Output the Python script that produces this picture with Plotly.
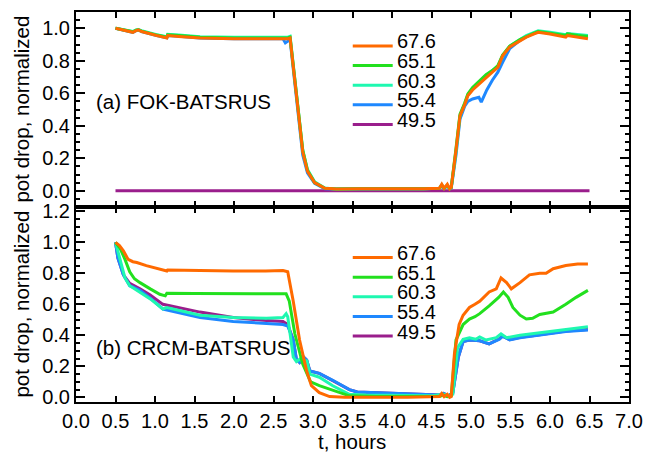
import plotly.graph_objects as go
from plotly.subplots import make_subplots

labels = ["67.6", "65.1", "60.3", "55.4", "49.5"]
colors = ["#FF6A00", "#22E01E", "#1EF8B0", "#1E88FF", "#9A1E8C"]

# ---------- (a) FOK-BATSRUS ----------
t_a_676 = [0.5, 0.6, 0.72, 0.76, 0.79, 0.83, 0.9, 1.02, 1.15, 1.16, 1.3, 1.57, 2.0, 2.4, 2.62, 2.68, 2.71,
           2.75, 2.81, 2.87, 2.93, 3.02, 3.15, 3.3, 3.6, 4.0, 4.4, 4.6, 4.63, 4.66, 4.70, 4.73, 4.75,
           4.81, 4.86, 4.92, 4.96, 5.02, 5.11, 5.19, 5.27, 5.34, 5.40, 5.49, 5.62, 5.70, 5.80, 5.85,
           6.0, 6.2, 6.22, 6.35, 6.48]
v_a_676 = [1.0, 0.99, 0.975, 0.985, 0.99, 0.98, 0.97, 0.955, 0.94, 0.955, 0.95, 0.94, 0.935, 0.935, 0.935, 0.935, 0.94,
           0.76, 0.49, 0.24, 0.12, 0.05, 0.015, 0.01, 0.012, 0.01, 0.012, 0.015, 0.04, 0.015, 0.04, 0.012, 0.02,
           0.25, 0.46, 0.53, 0.585, 0.62, 0.66, 0.70, 0.73, 0.76, 0.83, 0.885, 0.925, 0.945, 0.965, 0.975,
           0.965, 0.945, 0.955, 0.945, 0.935]

t_a_651 = [0.5, 0.6, 0.72, 0.76, 0.79, 0.83, 0.9, 1.02, 1.15, 1.16, 1.3, 1.57, 2.0, 2.4, 2.62, 2.68, 2.71,
           2.75, 2.81, 2.87, 2.93, 3.02, 3.15, 3.3, 3.6, 4.0, 4.4, 4.6, 4.63, 4.66, 4.70, 4.73, 4.75,
           4.81, 4.86, 4.92, 4.96, 5.02, 5.11, 5.19, 5.27, 5.34, 5.40, 5.49, 5.62, 5.70, 5.80, 5.85,
           6.0, 6.2, 6.22, 6.35, 6.48]
v_a_651 = [1.0, 0.99, 0.978, 0.988, 0.99, 0.982, 0.972, 0.958, 0.945, 0.96, 0.955, 0.945, 0.94, 0.94, 0.94, 0.94, 0.945,
           0.77, 0.50, 0.25, 0.125, 0.05, 0.015, 0.01, 0.012, 0.01, 0.012, 0.015, 0.035, 0.015, 0.035, 0.012, 0.02,
           0.26, 0.47, 0.54, 0.595, 0.635, 0.68, 0.715, 0.74, 0.77, 0.835, 0.89, 0.93, 0.95, 0.97, 0.98,
           0.97, 0.955, 0.965, 0.955, 0.95]

t_a_603 = [0.5, 0.6, 0.72, 0.76, 0.79, 0.83, 0.9, 1.02, 1.15, 1.16, 1.3, 1.57, 2.0, 2.4, 2.62, 2.68, 2.71,
           2.75, 2.81, 2.87, 2.93, 3.02, 3.15, 3.3, 3.6, 4.0, 4.4, 4.6, 4.63, 4.66, 4.70, 4.73, 4.75,
           4.81, 4.86, 4.92, 4.96, 5.02, 5.11, 5.19, 5.27, 5.34, 5.40, 5.49, 5.62, 5.70, 5.80, 5.85,
           6.0, 6.2, 6.22, 6.35, 6.48]
v_a_603 = [1.0, 0.99, 0.98, 0.99, 0.992, 0.985, 0.975, 0.96, 0.948, 0.962, 0.958, 0.948, 0.945, 0.945, 0.945, 0.945, 0.95,
           0.77, 0.50, 0.25, 0.13, 0.055, 0.017, 0.01, 0.012, 0.01, 0.012, 0.015, 0.035, 0.015, 0.03, 0.012, 0.02,
           0.24, 0.46, 0.535, 0.59, 0.63, 0.675, 0.71, 0.74, 0.765, 0.83, 0.89, 0.93, 0.955, 0.975, 0.985,
           0.975, 0.96, 0.968, 0.96, 0.955]

t_a_554 = [0.5, 0.6, 0.72, 0.76, 0.79, 0.83, 0.9, 1.02, 1.15, 1.16, 1.3, 1.57, 2.0, 2.4, 2.62, 2.65, 2.68, 2.71,
           2.75, 2.81, 2.87, 2.93, 3.02, 3.15, 3.3, 3.6, 4.0, 4.4, 4.6, 4.63, 4.66, 4.70, 4.73, 4.75,
           4.81, 4.86, 4.92, 4.96, 5.02, 5.10, 5.13, 5.2, 5.27, 5.34, 5.40, 5.49, 5.62, 5.70, 5.80, 5.85,
           6.0, 6.2, 6.22, 6.35, 6.48]
v_a_554 = [1.0, 0.99, 0.975, 0.985, 0.99, 0.98, 0.97, 0.955, 0.942, 0.956, 0.95, 0.94, 0.936, 0.936, 0.935, 0.91, 0.92, 0.93,
           0.75, 0.47, 0.22, 0.11, 0.045, 0.013, 0.01, 0.012, 0.01, 0.012, 0.015, 0.03, 0.015, 0.03, 0.012, 0.015,
           0.22, 0.44, 0.52, 0.55, 0.565, 0.575, 0.545, 0.62, 0.68, 0.73, 0.79, 0.875, 0.925, 0.95, 0.97, 0.98,
           0.97, 0.955, 0.965, 0.955, 0.95]

t_a_495 = [0.5, 6.5]
v_a_495 = [0.0, 0.0]

# ---------- (b) CRCM-BATSRUS ----------
t_b_676 = [0.5, 0.55, 0.60, 0.66, 0.72, 0.77, 0.89, 1.02, 1.15, 1.16, 1.5, 1.99, 2.4, 2.62, 2.68,
           2.75, 2.83, 2.92, 2.98, 3.08, 3.21, 3.4, 3.8, 4.2, 4.6, 4.63, 4.66, 4.70, 4.73, 4.75,
           4.79, 4.85, 4.90, 4.98, 5.05, 5.11, 5.23, 5.32, 5.38, 5.45, 5.51, 5.62, 5.74, 5.87, 5.95,
           6.04, 6.2, 6.35, 6.48]
v_b_676 = [1.0, 0.98, 0.945, 0.89, 0.875, 0.87, 0.85, 0.83, 0.815, 0.822, 0.818, 0.815, 0.815, 0.818, 0.81,
           0.62, 0.37, 0.17, 0.075, 0.03, 0.005, 0.0, 0.0, 0.0, 0.005, 0.025, 0.005, 0.02, 0.0, 0.005,
           0.28, 0.47, 0.53, 0.58, 0.60, 0.62, 0.68, 0.70, 0.77, 0.74, 0.70, 0.74, 0.79, 0.80, 0.80,
           0.83, 0.85, 0.86, 0.86]

t_b_651 = [0.5, 0.56, 0.62, 0.68, 0.74, 0.81, 0.94, 1.06, 1.13, 1.15, 1.5, 2.0, 2.4, 2.66,
           2.70, 2.77, 2.87, 2.94, 2.97, 3.08, 3.25, 3.46, 3.8, 4.2, 4.6, 4.65, 4.70, 4.75,
           4.81, 4.90, 4.98, 5.05, 5.11, 5.23, 5.35, 5.41, 5.47, 5.53, 5.62, 5.70, 5.78, 5.87,
           6.04, 6.2, 6.33, 6.48]
v_b_651 = [1.0, 0.96, 0.89, 0.81, 0.765, 0.74, 0.70, 0.665, 0.655, 0.672, 0.67, 0.668, 0.667, 0.668,
           0.62, 0.41, 0.215, 0.13, 0.10, 0.075, 0.045, 0.01, 0.005, 0.003, 0.005, 0.015, 0.005, 0.01,
           0.37, 0.47, 0.505, 0.52, 0.54, 0.59, 0.645, 0.68, 0.645, 0.58, 0.53, 0.505, 0.51, 0.535,
           0.55, 0.60, 0.645, 0.69]

t_b_603 = [0.5, 0.56, 0.62, 0.68, 0.81, 0.94, 1.10, 1.15, 1.57, 1.99, 2.41, 2.62, 2.66, 2.68,
           2.71, 2.75, 2.79, 2.84, 2.88, 2.92, 2.96, 3.08, 3.25, 3.46, 3.67, 4.1, 4.51, 4.65, 4.72, 4.77,
           4.83, 4.90, 4.98, 5.06, 5.11, 5.19, 5.32, 5.38, 5.45, 5.62, 5.78, 6.0, 6.2, 6.48]
v_b_603 = [1.0, 0.88, 0.77, 0.72, 0.68, 0.635, 0.57, 0.58, 0.53, 0.515, 0.51, 0.515, 0.54, 0.52,
           0.41, 0.26, 0.23, 0.25, 0.22, 0.24, 0.15, 0.13, 0.075, 0.02, 0.015, 0.012, 0.01, 0.02, 0.01, 0.02,
           0.32, 0.375, 0.385, 0.375, 0.39, 0.37, 0.385, 0.41, 0.385, 0.40, 0.41, 0.425, 0.44, 0.455]

t_b_554 = [0.5, 0.53, 0.60, 0.68, 0.81, 0.94, 1.10, 1.57, 1.99, 2.41, 2.62, 2.68,
           2.75, 2.79, 2.83, 2.88, 2.92, 2.96, 3.08, 3.25, 3.46, 3.56, 3.8, 4.1, 4.4, 4.6, 4.65, 4.72, 4.77,
           4.84, 4.90, 4.98, 5.11, 5.23, 5.36, 5.40, 5.49, 5.62, 5.78, 6.0, 6.2, 6.48]
v_b_554 = [1.0, 0.90, 0.79, 0.72, 0.69, 0.64, 0.57, 0.515, 0.49, 0.475, 0.47, 0.46,
           0.37, 0.245, 0.225, 0.26, 0.24, 0.17, 0.155, 0.11, 0.05, 0.035, 0.03, 0.025, 0.02, 0.015, 0.025, 0.01, 0.03,
           0.26, 0.36, 0.37, 0.365, 0.345, 0.375, 0.395, 0.37, 0.385, 0.395, 0.41, 0.425, 0.435]

t_b_495 = [0.5, 0.53, 0.60, 0.68, 0.81, 0.94, 1.10, 1.57, 1.99, 2.41, 2.62, 2.68,
           2.75, 2.79, 2.83, 2.88, 2.92, 2.96, 3.08, 3.25, 3.46, 3.56, 3.8, 4.1, 4.4, 4.6, 4.65, 4.72, 4.77,
           4.84, 4.90, 4.98, 5.11, 5.23, 5.36, 5.40, 5.49, 5.62, 5.78, 6.0, 6.2, 6.48]
v_b_495 = [1.0, 0.90, 0.79, 0.735, 0.70, 0.66, 0.60, 0.55, 0.515, 0.495, 0.49, 0.47,
           0.37, 0.245, 0.225, 0.26, 0.24, 0.17, 0.155, 0.11, 0.05, 0.035, 0.03, 0.025, 0.02, 0.015, 0.025, 0.01, 0.03,
           0.26, 0.36, 0.37, 0.365, 0.345, 0.378, 0.395, 0.372, 0.388, 0.397, 0.412, 0.428, 0.437]

x_ticks = [0.0, 0.5, 1.0, 1.5, 2.0, 2.5, 3.0, 3.5, 4.0, 4.5, 5.0, 5.5, 6.0, 6.5, 7.0]
y_ticks_a = [0.0, 0.2, 0.4, 0.6, 0.8, 1.0]
y_ticks_b = [0.0, 0.2, 0.4, 0.6, 0.8, 1.0, 1.2]

series_a = [(t_a_676, v_a_676), (t_a_651, v_a_651), (t_a_603, v_a_603), (t_a_554, v_a_554), (t_a_495, v_a_495)]
series_b = [(t_b_676, v_b_676), (t_b_651, v_b_651), (t_b_603, v_b_603), (t_b_554, v_b_554), (t_b_495, v_b_495)]

W, H = 645, 453
L, R, T, B = 76, 15.5, 11.7, 51.3
pw, ph = W - L - R, H - T - B

fig = make_subplots(rows=2, cols=1, shared_xaxes=True, vertical_spacing=0)

# draw in reverse so 67.6 ends on top
for i in reversed(range(5)):
    fig.add_trace(go.Scatter(x=series_a[i][0], y=series_a[i][1], mode="lines",
                             line=dict(color=colors[i], width=3), showlegend=False), row=1, col=1)
    fig.add_trace(go.Scatter(x=series_b[i][0], y=series_b[i][1], mode="lines",
                             line=dict(color=colors[i], width=3), showlegend=False), row=2, col=1)

FONT = "Liberation Sans, Arial, Helvetica, sans-serif"
tickfont = dict(family=FONT, size=20, color="black")
TXT = dict(family=FONT, size=20.5, color="black")
LEG = dict(family=FONT, size=20, color="black")

axcommon = dict(showline=True, linewidth=2, linecolor="black", mirror="ticks", automargin=False,
                ticks="inside", tickcolor="black", tickwidth=2, showgrid=False, zeroline=False)

fig.update_xaxes(range=[0, 7], tickvals=x_ticks, tickformat=".1f", ticklen=6, tickfont=tickfont, **axcommon)
fig.update_xaxes(showticklabels=False, row=1, col=1)

minor = dict(dtick=0.05, ticklen=4, tickwidth=1.5, tickcolor="black", ticks="inside")
fig.update_yaxes(range=[-0.1, 1.1], tickvals=y_ticks_a, tickformat=".1f", ticklen=9, tickfont=tickfont,
                 minor=minor, **axcommon, row=1, col=1)
fig.update_yaxes(range=[-0.03, 1.228], tickvals=y_ticks_b, tickformat=".1f", ticklen=9, tickfont=tickfont,
                 minor=minor, **axcommon, row=2, col=1)

def px_x(x):
    return (x - L) / pw

def px_y(y):
    return (H - B - y) / ph

ann = []
shapes = []
# y titles
for yc in (109.2, 304.2):
    ann.append(dict(text="pot drop, normalized", xref="paper", yref="paper", x=px_x(21), y=px_y(yc),
                    xanchor="center", yanchor="middle", textangle=-90, showarrow=False, font=TXT))
ann.append(dict(text="t, hours", xref="paper", yref="paper", x=px_x(352.5), y=px_y(441),
                xanchor="center", yanchor="middle", showarrow=False, font=TXT))
ann.append(dict(text="(a) FOK-BATSRUS", xref="paper", yref="paper", x=px_x(94), y=px_y(101.7),
                xanchor="left", yanchor="middle", showarrow=False, font=TXT))
ann.append(dict(text="(b) CRCM-BATSRUS", xref="paper", yref="paper", x=px_x(94), y=px_y(346.7),
                xanchor="left", yanchor="middle", showarrow=False, font=TXT))

# legends
for y0 in (45.7, 257.3):
    for i in range(5):
        yl = y0 + i * 19.6
        shapes.append(dict(type="line", xref="paper", yref="paper", x0=px_x(353), x1=px_x(393),
                           y0=px_y(yl), y1=px_y(yl), line=dict(color=colors[i], width=3)))
        ann.append(dict(text=labels[i], xref="paper", yref="paper", x=px_x(395.5), y=px_y(yl - 4.5),
                        xanchor="left", yanchor="middle", showarrow=False, font=LEG))

fig.update_layout(width=W, height=H, margin=dict(l=L, r=R, t=T, b=B),
                  plot_bgcolor="white", paper_bgcolor="white",
                  annotations=ann, shapes=shapes, showlegend=False)

fig.write_html("out.html", config={"displayModeBar": False},
               post_script="document.body.style.margin='0';")
